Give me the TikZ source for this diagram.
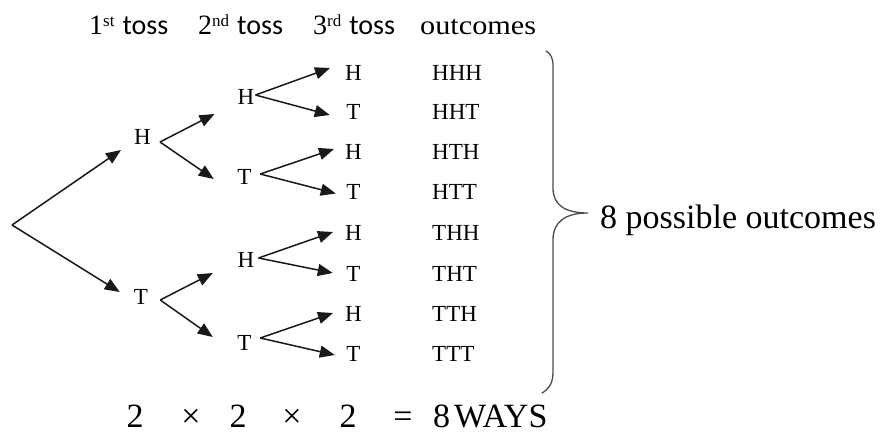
\documentclass[tikz,border=0pt]{standalone}
\usepackage{fontspec}
\setmainfont{Liberation Serif}
\newfontfamily\wideserif[FakeStretch=1.12]{Liberation Serif}
\newfontfamily\tossfont{Carlito}
\usetikzlibrary{arrows.meta}
\newcommand{\supx}[1]{\raisebox{9pt}{\fontsize{17}{17}\selectfont #1}}
\begin{document}
\begin{tikzpicture}[x=1pt,y=-1pt,
  lt/.style={font=\fontsize{23}{23}\selectfont, inner sep=0pt},
  oc/.style={font=\fontsize{23}{23}\selectfont, inner sep=0pt, anchor=west},
  hd/.style={font=\fontsize{28}{28}\selectfont, inner sep=0pt, anchor=base west},
  bt/.style={font=\fontsize{34}{34}\selectfont, inner sep=0pt, anchor=base},
  arr/.style={-{Triangle[length=15pt,width=12pt]}, line width=1.5pt, draw=black!90},
  bracestyle/.style={line width=1.3pt, draw=black!70, line cap=round}]
\useasboundingbox (0,0) rectangle (883,436);
% header
\node[hd] (c1) at (89,35) {1\supx{st}\hspace{8pt}{\tossfont toss}};
\node[hd] (c2) at (198,35) {2\supx{nd}\hspace{8pt}{\tossfont toss}};
\node[hd] (c3) at (313,35) {3\supx{rd}\hspace{8pt}{\tossfont toss}};
\node[hd, font=\fontsize{27}{27}\selectfont] (c4) at (420,35) {\wideserif outcomes};
% tree nodes
\coordinate (root) at (12,225);
\node[lt] (H1) at (142.5,137) {H};
\node[lt] (T1) at (141,297) {T};
\node[lt] (HH) at (246,97) {H};
\node[lt] (HT) at (244.5,177) {T};
\node[lt] (TH) at (246,260) {H};
\node[lt] (TT) at (244.5,342.5) {T};
\node[lt] (HHH) at (353.5,72.5) {H};
\node[lt] (HHT) at (353.5,111.5) {T};
\node[lt] (HTH) at (353.5,151.5) {H};
\node[lt] (HTT) at (353.5,192) {T};
\node[lt] (THH) at (353.5,233) {H};
\node[lt] (THT) at (353.5,274) {T};
\node[lt] (TTH) at (353.5,314) {H};
\node[lt] (TTT) at (353.5,354) {T};
% outcomes
\node[oc] (o1) at (432,72.5) {HHH};
\node[oc] (o2) at (432,111.5) {HHT};
\node[oc] (o3) at (432,151.5) {HTH};
\node[oc] (o4) at (432,192) {HTT};
\node[oc] (o5) at (432,233) {THH};
\node[oc] (o6) at (432,274) {THT};
\node[oc] (o7) at (432,314) {TTH};
\node[oc] (o8) at (432,354) {TTT};
% arrows level 1
\draw[arr] (root) -- ([shift={(-13,13)}]H1.west);
\draw[arr] (root) -- ([shift={(-14,-5)}]T1.west);
% level 2
\draw[arr] ([shift={(9,5)}]H1.east) -- ([shift={(-23,17)}]HH.west);
\draw[arr] ([shift={(9,5)}]H1.east) -- ([shift={(-23.5,2)}]HT.west);
\draw[arr] ([shift={(12,3)}]T1.east) -- ([shift={(-24.7,13)}]TH.west);
\draw[arr] ([shift={(12,3)}]T1.east) -- ([shift={(-24.5,-5.5)}]TT.west);
% level 3
\draw[arr] ([shift={(1,-2)}]HH.east) -- ([shift={(-15,-4.5)}]HHH.west);
\draw[arr] ([shift={(1,-2)}]HH.east) -- ([shift={(-16.5,3.5)}]HHT.west);
\draw[arr] ([shift={(8.5,-3)}]HT.east) -- ([shift={(-11,-2.5)}]HTH.west);
\draw[arr] ([shift={(8.5,-3)}]HT.east) -- ([shift={(-10.5,1.5)}]HTT.west);
\draw[arr] ([shift={(4,-2)}]TH.east) -- ([shift={(-12,-1)}]THH.west);
\draw[arr] ([shift={(4,-2)}]TH.east) -- ([shift={(-13.5,-1)}]THT.west);
\draw[arr] ([shift={(8.5,-4.5)}]TT.east) -- ([shift={(-12,-1)}]TTH.west);
\draw[arr] ([shift={(8.5,-4.5)}]TT.east) -- ([shift={(-11.5,1)}]TTT.west);
% brace
\draw[bracestyle] (546,51) .. controls (551,54) and (553,58) .. (553,66) -- (553,188)
  .. controls (553,205) and (565,213) .. (588,213)
  .. controls (565,213) and (553,222) .. (553,240) -- (553,372)
  .. controls (553,383) and (549,389) .. (542,393);
\node[inner sep=0pt, anchor=base west, font=\fontsize{34}{34}\selectfont] (lab) at (600,228) {8 possible outcomes};
% bottom line
\node[bt] (m1) at (135,427) {2};
\node[bt] (x1) at (191,427) {×};
\node[bt] (m2) at (238,427) {2};
\node[bt] (x2) at (292,427) {×};
\node[bt] (m3) at (348,427) {2};
\node[bt] (eq) at (403,427) {=};
\node[bt, anchor=base west] (ways) at (433,427) {8\hspace{4pt}WAYS};
\end{tikzpicture}
\end{document}
